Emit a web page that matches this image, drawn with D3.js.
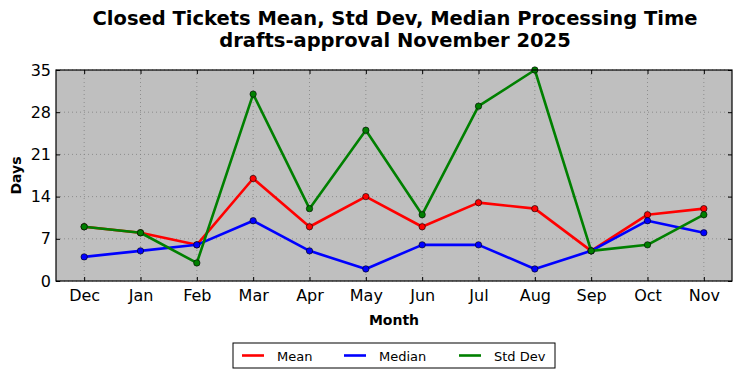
<!DOCTYPE html>
<html>
<head>
<meta charset="utf-8" />
<title></title>
<style>
html, body {
    margin: 0;
    padding: 0;
    background: #fff;
}
text {
    font-family: "DejaVu Sans", sans-serif;
}
.grid line {
    stroke: #808080;
    stroke-width: 0.8;
    stroke-dasharray: 1,3;
}
</style>
</head>
<body>
<div id="chart"></div>
<script src="https://cdnjs.cloudflare.com/ajax/libs/d3/7.8.5/d3.min.js"></script>
<script>
var months = ["Dec", "Jan", "Feb", "Mar", "Apr", "May", "Jun", "Jul", "Aug", "Sep", "Oct", "Nov"]
var meanVals = [9, 8, 6, 17, 9, 14, 9, 13, 12, 5, 11, 12]
var medianVals = [4, 5, 6, 10, 5, 2, 6, 6, 2, 5, 10, 8]
var stdVals = [9, 8, 3, 31, 12, 25, 11, 29, 35, 5, 6, 11]
var yTicks = [0, 7, 14, 21, 28, 35]

var series = [
    {name: "Mean", color: "#ff0000", values: meanVals},
    {name: "Median", color: "#0000ff", values: medianVals},
    {name: "Std Dev", color: "#008000", values: stdVals}
]

var W = 742, H = 378
var plot = {left: 56, right: 732, top: 70, bottom: 281}

var svg = d3.select("#chart").append("svg")
    .attr("width", W)
    .attr("height", H)

var x = d3.scalePoint().domain(months).range([plot.left, plot.right]).padding(0.5)
var y = d3.scaleLinear().domain([0, 35]).range([plot.bottom, plot.top])

// background
svg.append("rect")
    .attr("x", plot.left).attr("y", plot.top)
    .attr("width", plot.right - plot.left)
    .attr("height", plot.bottom - plot.top)
    .attr("fill", "#bfbfbf")

// grid
var grid = svg.append("g").classed("grid", true)
grid.selectAll(".gx").data(months).enter().append("line")
    .attr("x1", function(d){ return x(d) }).attr("x2", function(d){ return x(d) })
    .attr("y1", plot.top).attr("y2", plot.bottom)
grid.selectAll(".gy").data(yTicks).enter().append("line")
    .attr("x1", plot.left).attr("x2", plot.right)
    .attr("y1", function(d){ return y(d) }).attr("y2", function(d){ return y(d) })

// axes (ticks inward, classic style)
var xAxis = d3.axisBottom(x).tickSizeInner(-4).tickSizeOuter(0).tickPadding(9)
var yAxis = d3.axisLeft(y).tickValues(yTicks).tickSizeInner(-4).tickSizeOuter(0).tickPadding(5)

var gx = svg.append("g").attr("transform", "translate(0," + plot.bottom + ")").call(xAxis)
var gy = svg.append("g").attr("transform", "translate(" + plot.left + ",0)").call(yAxis)
svg.append("g").attr("transform", "translate(0," + plot.top + ")")
    .call(d3.axisTop(x).tickSizeInner(-4).tickSizeOuter(0).tickFormat(""))
svg.append("g").attr("transform", "translate(" + plot.right + ",0)")
    .call(d3.axisRight(y).tickValues(yTicks).tickSizeInner(-4).tickSizeOuter(0).tickFormat(""))

svg.selectAll(".domain").remove()
svg.selectAll(".tick line").attr("stroke", "#000")
gx.selectAll("text").attr("font-size", 16).attr("fill", "#000")
gy.selectAll("text").attr("font-size", 16).attr("fill", "#000")

// lines
var line = d3.line()
    .x(function(d, i){ return x(months[i]) })
    .y(function(d){ return y(d) })

series.forEach(function(s) {
    svg.append("path")
        .datum(s.values)
        .attr("d", line)
        .attr("fill", "none")
        .attr("stroke", s.color)
        .attr("stroke-width", 2.6)
        .attr("stroke-linejoin", "round")
    svg.append("g").selectAll("circle")
        .data(s.values)
        .enter()
        .append("circle")
        .attr("cx", function(d, i){ return x(months[i]) })
        .attr("cy", function(d){ return y(d) })
        .attr("r", 3.2)
        .attr("fill", s.color)
        .attr("stroke", "#000")
        .attr("stroke-width", 0.6)
})

// frame
svg.append("rect")
    .attr("x", plot.left).attr("y", plot.top)
    .attr("width", plot.right - plot.left)
    .attr("height", plot.bottom - plot.top)
    .attr("fill", "none")
    .attr("stroke", "#000")
    .attr("stroke-width", 1.2)

// titles
svg.append("text")
    .attr("x", (plot.left + plot.right) / 2 + 1).attr("y", 25)
    .attr("text-anchor", "middle")
    .attr("font-size", 19.5).attr("font-weight", "bold")
    .text("Closed Tickets Mean, Std Dev, Median Processing Time")
svg.append("text")
    .attr("x", (plot.left + plot.right) / 2 + 1).attr("y", 47)
    .attr("text-anchor", "middle")
    .attr("font-size", 19.5).attr("font-weight", "bold")
    .text("drafts-approval November 2025")

svg.append("text")
    .attr("x", (plot.left + plot.right) / 2).attr("y", 325)
    .attr("text-anchor", "middle")
    .attr("font-size", 14).attr("font-weight", "bold")
    .text("Month")
svg.append("text")
    .attr("transform", "translate(21," + ((plot.top + plot.bottom) / 2) + ") rotate(-90)")
    .attr("text-anchor", "middle")
    .attr("font-size", 14).attr("font-weight", "bold")
    .text("Days")

// legend
var legend = svg.append("g").attr("transform", "translate(233,343)")
legend.append("rect")
    .attr("width", 322).attr("height", 25)
    .attr("fill", "#fff").attr("stroke", "#000").attr("stroke-width", 1)
var legX = [9, 111, 226]
series.forEach(function(s, i) {
    var g = legend.append("g").attr("transform", "translate(" + legX[i] + ",12.5)")
    g.append("line").attr("x1", 0).attr("x2", 22)
        .attr("stroke", s.color).attr("stroke-width", 2.6)
    g.append("text").attr("x", 35).attr("y", 5)
        .attr("font-size", 13).text(s.name)
})
</script>
</body>
</html>
